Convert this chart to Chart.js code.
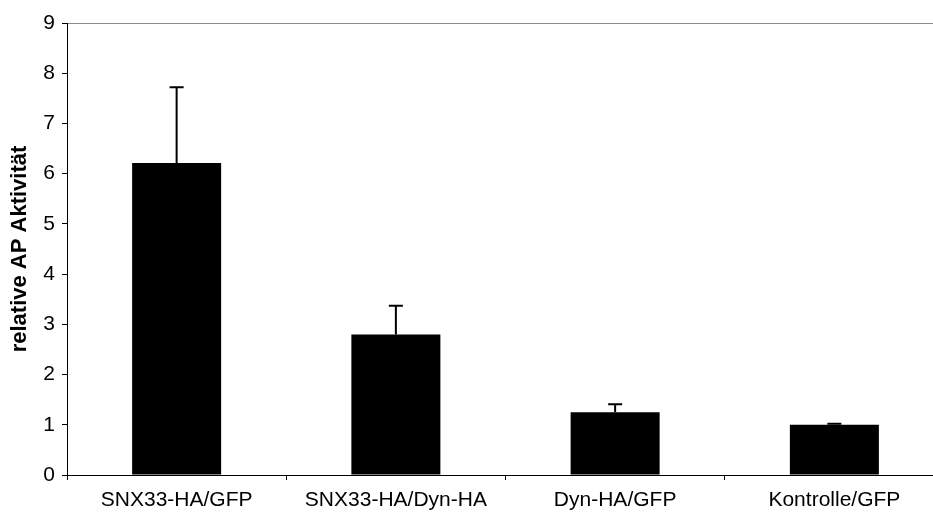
<!DOCTYPE html>
<html>
<head>
<meta charset="utf-8">
<script src="https://cdn.jsdelivr.net/npm/chart.js@4/dist/chart.umd.min.js"></script>
<style>
  html, body { margin: 0; padding: 0; background: #fff; overflow: hidden; }
  #wrap { position: relative; width: 945px; height: 513px; }
</style>
</head>
<body>
<div id="wrap"><canvas id="apChart"></canvas></div>
<script>
// Proben und gemessene relative AP-Aktivität (Mittelwert + Fehler nach oben)
const labels = ['SNX33-HA/GFP', 'SNX33-HA/Dyn-HA', 'Dyn-HA/GFP', 'Kontrolle/GFP'];
const meanValues = [6.21, 2.80, 1.25, 1.00];
const errorTop = [7.72, 3.37, 1.41, 1.02];
const yTicks = [0, 1, 2, 3, 4, 5, 6, 7, 8, 9];

const fontFamily = 'Arial, "Liberation Sans", Helvetica, sans-serif';

// Fehlerbalken (nur nach oben) über den Säulen zeichnen
const errorBars = {
    id: 'errorBars',
    afterDatasetsDraw(chart) {
        const ctx = chart.ctx;
        const meta = chart.getDatasetMeta(0);
        const yScale = chart.scales.y;
        ctx.save();
        ctx.strokeStyle = '#000';
        ctx.lineWidth = 2;
        meta.data.forEach((bar, i) => {
            const x = bar.x;
            const yTop = yScale.getPixelForValue(errorTop[i]);
            const yBase = yScale.getPixelForValue(meanValues[i]);
            ctx.beginPath();
            ctx.moveTo(x, yBase);
            ctx.lineTo(x, yTop);
            ctx.moveTo(x - 7, yTop);
            ctx.lineTo(x + 7, yTop);
            ctx.stroke();
        });
        ctx.restore();
    }
};

new Chart(document.getElementById('apChart').getContext('2d'), {
    type: 'bar',
    data: {
        labels: labels,
        datasets: [{
            data: meanValues,
            backgroundColor: '#000',
            borderWidth: 0,
            categoryPercentage: 1,
            barPercentage: 0.406
        }]
    },
    options: {
        responsive: true,
        maintainAspectRatio: false,
        animation: false,
        layout: {
            padding: { top: 23, right: 1, bottom: 0, left: 0 }
        },
        plugins: {
            legend: { display: false },
            tooltip: { enabled: false }
        },
        scales: {
            x: {
                grid: {
                    offset: true,
                    drawOnChartArea: false,
                    tickLength: 5,
                    tickColor: '#000'
                },
                border: { color: '#000', width: 1 },
                ticks: {
                    color: '#000',
                    padding: 8,
                    maxRotation: 0,
                    autoSkip: false,
                    font: { family: fontFamily, size: 21 }
                },
                afterFit(scale) { scale.height = 38; }
            },
            y: {
                min: 0,
                max: 9,
                afterBuildTicks(scale) {
                    scale.ticks = yTicks.map(v => ({ value: v }));
                },
                grid: {
                    color: ctx => ctx.tick && ctx.tick.value === 9 ? '#8c8c8c' : 'rgba(0,0,0,0)',
                    tickLength: 5,
                    tickColor: '#000'
                },
                border: { color: '#000', width: 1 },
                ticks: {
                    color: '#000',
                    padding: 7,
                    font: { family: fontFamily, size: 21 }
                },
                title: {
                    display: true,
                    text: 'relative AP Aktivität',
                    color: '#000',
                    padding: { top: 7, bottom: 0 },
                    font: { family: fontFamily, size: 22, weight: 'bold' }
                },
                afterFit(scale) { scale.width = 67; }
            }
        }
    },
    plugins: [errorBars]
});
</script>
</body>
</html>
